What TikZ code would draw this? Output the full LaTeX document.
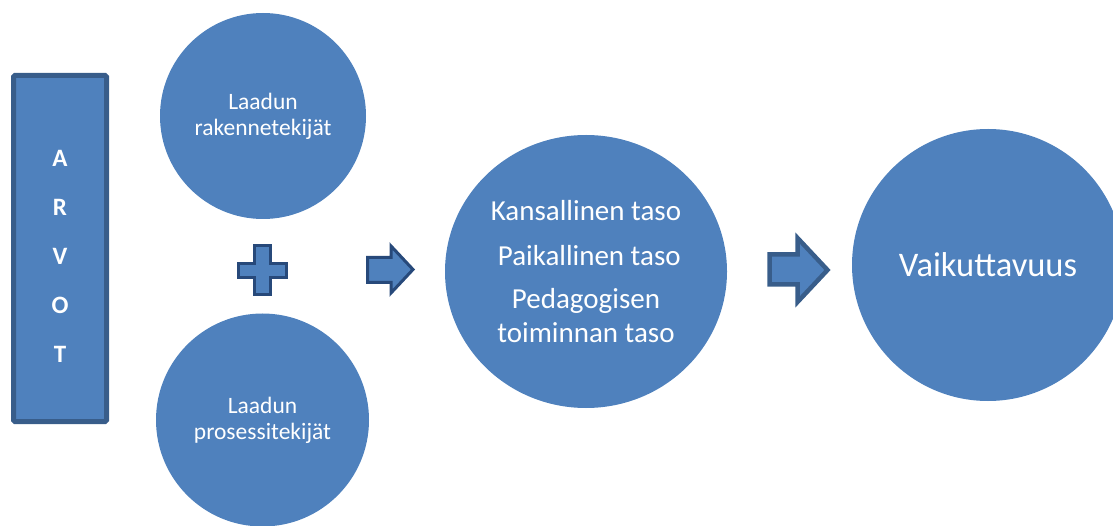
\documentclass[tikz,border=0pt]{standalone}
\usepackage{fontspec}
\setmainfont{Carlito}
\usetikzlibrary{shapes.geometric}
\definecolor{accfill}{HTML}{4F81BD}
\definecolor{accline}{HTML}{385D8A}
\definecolor{accdark}{HTML}{27497A}
\tikzset{
  blob/.style={circle, fill=accfill, draw=none, text=white, align=center, inner sep=0pt},
  oval/.style={ellipse, fill=accfill, draw=none, text=white, align=center, inner sep=0pt},
  pillar/.style={rectangle, fill=accfill, draw=accline, line width=5pt, rounded corners=1.5pt},
  glyph/.style={fill=accfill, draw=accdark, line width=3pt, line join=miter},
  bigglyph/.style={fill=accfill, draw=accline, line width=4.5pt, line join=miter},
}
\begin{document}
\begin{tikzpicture}[x=1pt,y=-1pt]
\useasboundingbox (0,0) rectangle (1113,526);
% values pillar
\node[pillar, minimum width=93pt, minimum height=346pt] (arvot) at (60,248.5) {};
\node[text=white, font=\fontsize{25}{49}\selectfont\bfseries, align=center] (arvotxt) at (60,256) {A\\R\\V\\O\\T};
% circles
\node[blob, minimum size=206pt, font=\fontsize{23.5}{26}\selectfont] (rak) at (263,116) {Laadun\\rakennetekijät};
\node[blob, minimum size=213pt, font=\fontsize{23.5}{26}\selectfont] (pro) at (262.5,420) {Laadun\\prosessitekijät};
\node[oval, minimum width=282pt, minimum height=273pt, font=\fontsize{29}{34}\selectfont] (taso) at (586,271.5)
  {Kansallinen taso\\[11pt]\ Paikallinen taso\\[9pt]Pedagogisen\\toiminnan taso};
\node[blob, minimum size=272pt, font=\fontsize{34.5}{40}\selectfont] (vai) at (988,265) {Vaikuttavuus};
% plus sign
\draw[glyph] (254.5,245.5) -- (270.5,245.5) -- (270.5,263.5) -- (286.5,263.5) -- (286.5,277.5)
  -- (270.5,277.5) -- (270.5,294.5) -- (254.5,294.5) -- (254.5,277.5) -- (238.5,277.5)
  -- (238.5,263.5) -- (254.5,263.5) -- cycle;
% block arrows
\draw[glyph] (367.5,257.5) -- (391,257.5) -- (391,246) -- (413,269.5) -- (391,293)
  -- (391,282.5) -- (367.5,282.5) -- cycle;
\draw[bigglyph] (769.5,254.5) -- (797.5,254.5) -- (797.5,238) -- (827.5,270) -- (797.5,302)
  -- (797.5,284.5) -- (769.5,284.5) -- cycle;
\end{tikzpicture}
\end{document}
